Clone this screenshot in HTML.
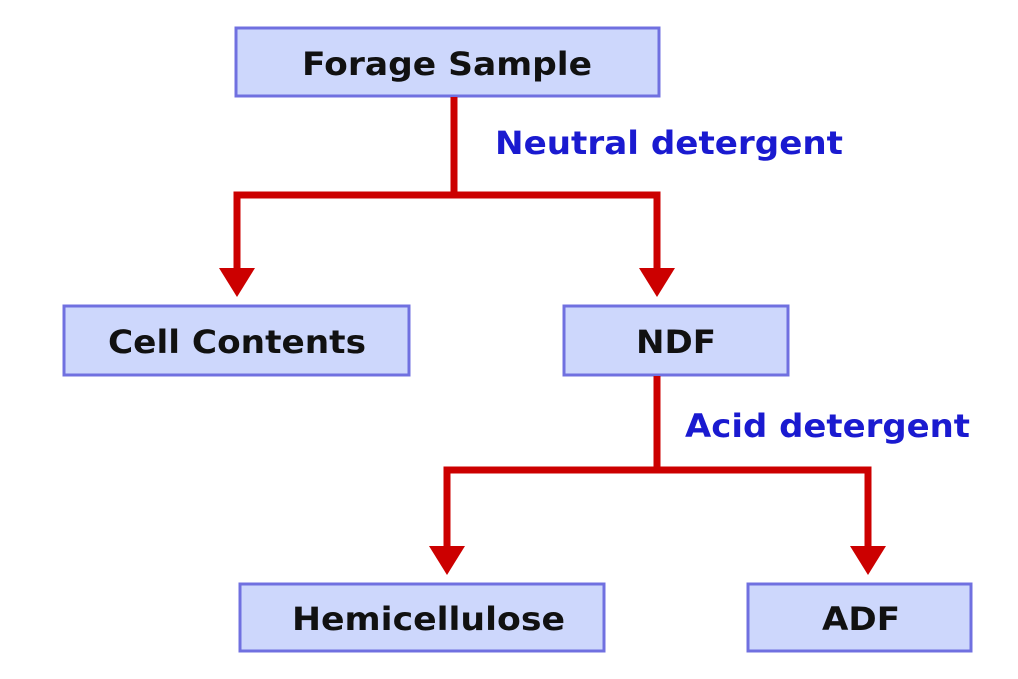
<!DOCTYPE html>
<html><head><style>
body{margin:0;background:#fff;}
svg text{font-family:"DejaVu Sans","Liberation Sans",sans-serif;font-weight:bold;}
</style></head><body>
<svg width="1018" height="674" viewBox="0 0 1018 674" xmlns="http://www.w3.org/2000/svg">
<g fill="#cdd7fc" stroke="#7070e0" stroke-width="3">
<rect x="236" y="28" width="423" height="68"/>
<rect x="64" y="306" width="345" height="69"/>
<rect x="564" y="306" width="224" height="69"/>
<rect x="240" y="584" width="364" height="67"/>
<rect x="748" y="584" width="223" height="67"/>
</g>
<g stroke="#cc0000" stroke-width="7" fill="none">
<polyline points="454,97 454,195"/>
<polyline points="237,270 237,195 657,195 657,270"/>
<polyline points="657,376 657,470"/>
<polyline points="447,548 447,470 868,470 868,548"/>
</g>
<g fill="#cc0000">
<polygon points="219,268 255,268 237,297"/>
<polygon points="639,268 675,268 657,297"/>
<polygon points="429,546 465,546 447,575"/>
<polygon points="850,546 886,546 868,575"/>
</g>
<g font-size="32" fill="#111" lengthAdjust="spacingAndGlyphs">
<text x="302" y="75" textLength="290" lengthAdjust="spacingAndGlyphs">Forage Sample</text>
<text x="108" y="353" textLength="258" lengthAdjust="spacingAndGlyphs">Cell Contents</text>
<text x="636" y="353" textLength="80" lengthAdjust="spacingAndGlyphs">NDF</text>
<text x="292" y="630" textLength="273" lengthAdjust="spacingAndGlyphs">Hemicellulose</text>
<text x="822" y="630" textLength="78" lengthAdjust="spacingAndGlyphs">ADF</text>
</g>
<g font-size="32" fill="#1a1ad0">
<text x="495" y="154" textLength="348" lengthAdjust="spacingAndGlyphs">Neutral detergent</text>
<text x="685" y="437" textLength="285" lengthAdjust="spacingAndGlyphs">Acid detergent</text>
</g>
</svg>
</body></html>
